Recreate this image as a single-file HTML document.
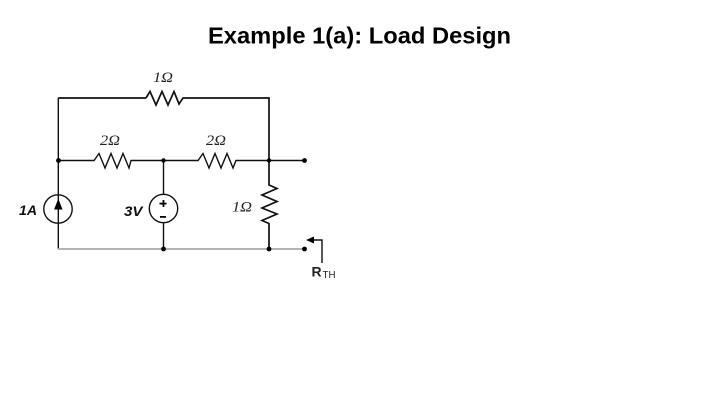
<!DOCTYPE html>
<html>
<head>
<meta charset="utf-8">
<style>
html,body{margin:0;padding:0;background:#fff;width:720px;height:405px;overflow:hidden}
svg{display:block}
</style>
</head>
<body>
<svg width="720" height="405" viewBox="0 0 720 405" xmlns="http://www.w3.org/2000/svg">
<text x="208" y="43.500" font-family="'Liberation Sans',sans-serif" font-weight="bold" font-size="23" textLength="303" lengthAdjust="spacingAndGlyphs" fill="#000">Example 1(a): Load Design</text>

<g fill="none" stroke="#111" stroke-width="1.400" stroke-linejoin="miter">
  <!-- top branch -->
  <path d="M146 98H58.500M146 98L150 91.500L156 105L162 91.500L168 105L174 91.500L179 104L183 98H269V160.500" stroke-width="1.700"/>
  <!-- middle branch -->
  <path d="M58.500 160.500H94L99 153.500L105 168L111 153.500L117 168L123 153.500L129 168L131 160.500H163.500H198L203 153.500L209 168L215 153.500L221 168L227 153.500L233 168L236 160.500H269H304.500"/>
  <!-- left source wire -->
  <path d="M58.300 97.500V249"/>
  <!-- mid wire -->
  <path d="M163.500 160.500V194.500M163.500 223V249"/>
  <!-- right resistor -->
  <path d="M269 160.500V185L277 188.500L262 195L277 201.500L262 208L277 214L262 220.500L269 223.500V249" stroke-width="1.700"/>
  <!-- bottom wire -->
  <path d="M58 249H304" stroke="#b4b4b4" stroke-width="2"/>
  <!-- sources -->
  <circle cx="58" cy="209" r="14.200"/>
  <circle cx="163.500" cy="208.500" r="14.200"/>
  <!-- RTH pointer -->
  <path d="M313 240H322V263"/>
</g>

<path d="M58.300 200L54.800 209H61.800Z" fill="#000" stroke="#000"/>
<rect x="159.500" y="202.700" width="7" height="1.800" fill="#000"/>
<rect x="162.600" y="200" width="1.800" height="7" fill="#000"/>
<rect x="160" y="216" width="6" height="1.800" fill="#000"/>
<path d="M306 240L314 236.500V243.500Z" fill="#000"/>

<g fill="#000">
  <circle cx="58.500" cy="160.500" r="2.400"/>
  <circle cx="163.500" cy="160.500" r="2.200"/>
  <circle cx="269" cy="160.500" r="2.200"/>
  <circle cx="304.500" cy="160.500" r="2.400"/>
  <circle cx="163.500" cy="249" r="2.400"/>
  <circle cx="269" cy="249" r="2.400"/>
  <circle cx="304.500" cy="249" r="2.400"/>
</g>

<g font-family="'Liberation Serif',serif" font-style="italic" font-size="15" fill="#222">
  <text x="153" y="82" textLength="20" lengthAdjust="spacingAndGlyphs">1Ω</text>
  <text x="100" y="145" textLength="20" lengthAdjust="spacingAndGlyphs">2Ω</text>
  <text x="206" y="145" textLength="20" lengthAdjust="spacingAndGlyphs">2Ω</text>
  <text x="232" y="211.500" textLength="20" lengthAdjust="spacingAndGlyphs">1Ω</text>
</g>
<g font-family="'Liberation Sans',sans-serif" font-weight="bold" font-style="italic" font-size="14" fill="#111">
  <text x="19" y="215" textLength="18" lengthAdjust="spacingAndGlyphs">1A</text>
  <text x="124" y="216" textLength="18.500" lengthAdjust="spacingAndGlyphs">3V</text>
</g>
<text x="311.500" y="276.500" font-family="'Liberation Sans',sans-serif" font-size="14" font-weight="bold" fill="#222">R</text>
<text x="322.500" y="278" font-family="'Liberation Sans',sans-serif" font-size="10" textLength="13" lengthAdjust="spacingAndGlyphs" fill="#222">TH</text>
</svg>
</body>
</html>
